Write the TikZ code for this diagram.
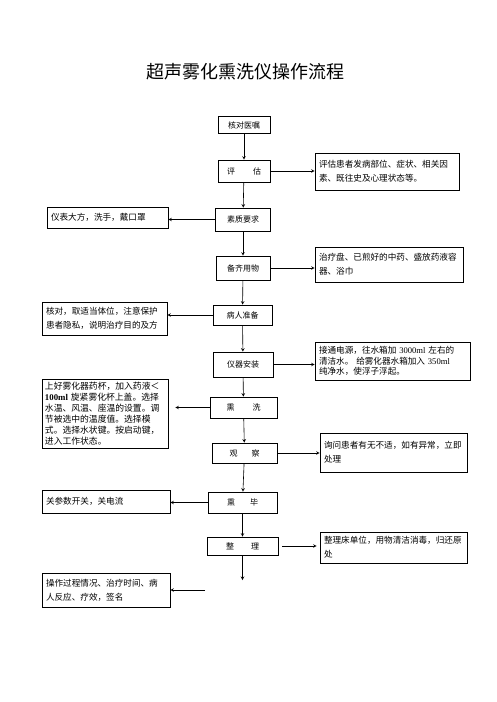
\documentclass[tikz,border=0pt]{standalone}
\usepackage{fontspec}
\setmainfont{Noto Sans CJK SC}
\newfontfamily\latinfont{Liberation Serif}
\usetikzlibrary{positioning,arrows}

\begin{document}
\begin{tikzpicture}[x=1pt,y=-1pt,
  stepbox/.style={rectangle,draw,line width=0.6pt,minimum width=#1,minimum height=21pt,inner sep=1pt,font=\fontsize{8}{10}\selectfont},
  notebox/.style={rectangle,draw,line width=0.6pt,text width=#1,align=left,inner sep=4pt,font=\fontsize{8.6}{14}\selectfont},
  arrow/.style={->,>=stealth,line width=0.6pt},
]
\useasboundingbox (0,0) rectangle (496,702);

% === TITLE ===
\node[font=\fontsize{18}{20}\selectfont] (title) at (245,72) {超声雾化熏洗仪操作流程};

% === MAIN STEPS ===
\node[stepbox=52,minimum height=17] (check) at (244,125) {核对医嘱};
\node[stepbox=52,minimum height=22] (assess) at (244,171) {评\hspace{18pt}估};
\node[stepbox=55,minimum height=23] (quality) at (243,219.5) {素质要求};
\node[stepbox=54,minimum height=24] (prepare) at (243,268) {备齐用物};
\node[stepbox=59,minimum height=20] (patient) at (242.5,315) {病人准备};
\node[stepbox=60,minimum height=25] (install) at (243,364.5) {仪器安装};
\node[stepbox=67] (fumigate) at (243.5,407.5) {熏\hspace{18pt}洗};
\node[stepbox=65,minimum height=20] (observe) at (244.5,453) {观\hspace{14pt}察};
\node[stepbox=69] (finish) at (242.5,502.5) {熏\hspace{15pt}毕};
\node[stepbox=71,minimum height=18] (tidy) at (242.5,546) {整\hspace{17pt}理};
\coordinate (tidyEnd) at (242.5,580);

% === NOTES ===
\node[notebox=136,minimum height=37] (assessNote) at (387,171.5) {评估患者发病部位、症状、相关因\\素、既往史及心理状态等。};
\node[notebox=113,minimum height=21] (qualityNote) at (107.5,217.5) {仪表大方，洗手，戴口罩};
\node[notebox=140,minimum height=35] (prepareNote) at (389,264.5) {治疗盘、已煎好的中药、盛放药液容\\器、浴巾};
\node[notebox=117,minimum height=33] (patientNote) at (104.5,318.5) {核对，取适当体位，注意保护\\患者隐私，说明治疗目的及方};
\node[notebox=147,minimum height=38,font=\fontsize{8.6}{10.5}\selectfont] (installNote) at (392.5,361) {接通电源，往水箱加 {\latinfont 3000ml} 左右的\\清洁水。 给雾化器水箱加入 {\latinfont 350ml}\\纯净水，使浮子浮起。};
\node[notebox=120,inner sep=3pt,minimum height=67,font=\fontsize{8.8}{11}\selectfont] (fumigateNote) at (105,413.5) {上好雾化器药杯，加入药液＜\\{\latinfont\bfseries 100ml} 旋紧雾化杯上盖。选择\\水温、风温、座温的设置。调\\节被选中的温度值。选择模\\式。选择水状键。按启动键，\\进入工作状态。};
\node[notebox=139,minimum height=39] (observeNote) at (393.5,452.5) {询问患者有无不适，如有异常，立即\\处理};
\node[notebox=120,minimum height=23] (finishNote) at (106,501.5) {关参数开关，关电流};
\node[notebox=139,minimum height=31] (tidyNote) at (393.5,547.5) {整理床单位，用物清洁消毒，归还原\\处};
\node[notebox=120,minimum height=34] (recordNote) at (106,590) {操作过程情况、治疗时间、病\\人反应、疗效，签名};
\coordinate (recordFrom) at (205,590);

% Arrows down the main column
\draw[arrow] (check) -- (assess);
\draw[arrow] (assess) -- (quality);
\draw[arrow] (quality) -- (prepare);
\draw[arrow] (prepare) -- (patient);
\draw[arrow] (patient) -- (install);
\draw[arrow] (install) -- (fumigate);
\draw[arrow] (fumigate) -- (observe);
\draw[arrow] (observe) -- (finish);
\draw[arrow] (finish) -- (tidy);
\draw[arrow] (tidy) -- (tidyEnd);

% Arrows to the notes
\draw[arrow] (assess.east) -- (assess.east -| assessNote.west);
\draw[arrow] (quality.west) -- (quality.west -| qualityNote.east);
\draw[arrow] (prepare.east) -- (prepare.east -| prepareNote.west);
\draw[arrow] (patient.west) -- (patient.west -| patientNote.east);
\draw[arrow] (install.east) -- (install.east -| installNote.west);
\draw[arrow,shorten >=7pt] (fumigate.west) -- (fumigate.west -| fumigateNote.east);
\draw[arrow] (observe.east) -- (observe.east -| observeNote.west);
\draw[arrow] (finish.west) -- (finish.west -| finishNote.east);
\draw[arrow,shorten <=4pt,shorten >=3pt] (tidy.east) -- (tidy.east -| tidyNote.west);
\draw[arrow] (recordFrom) -- (recordNote.east);

\end{tikzpicture}
\end{document}
